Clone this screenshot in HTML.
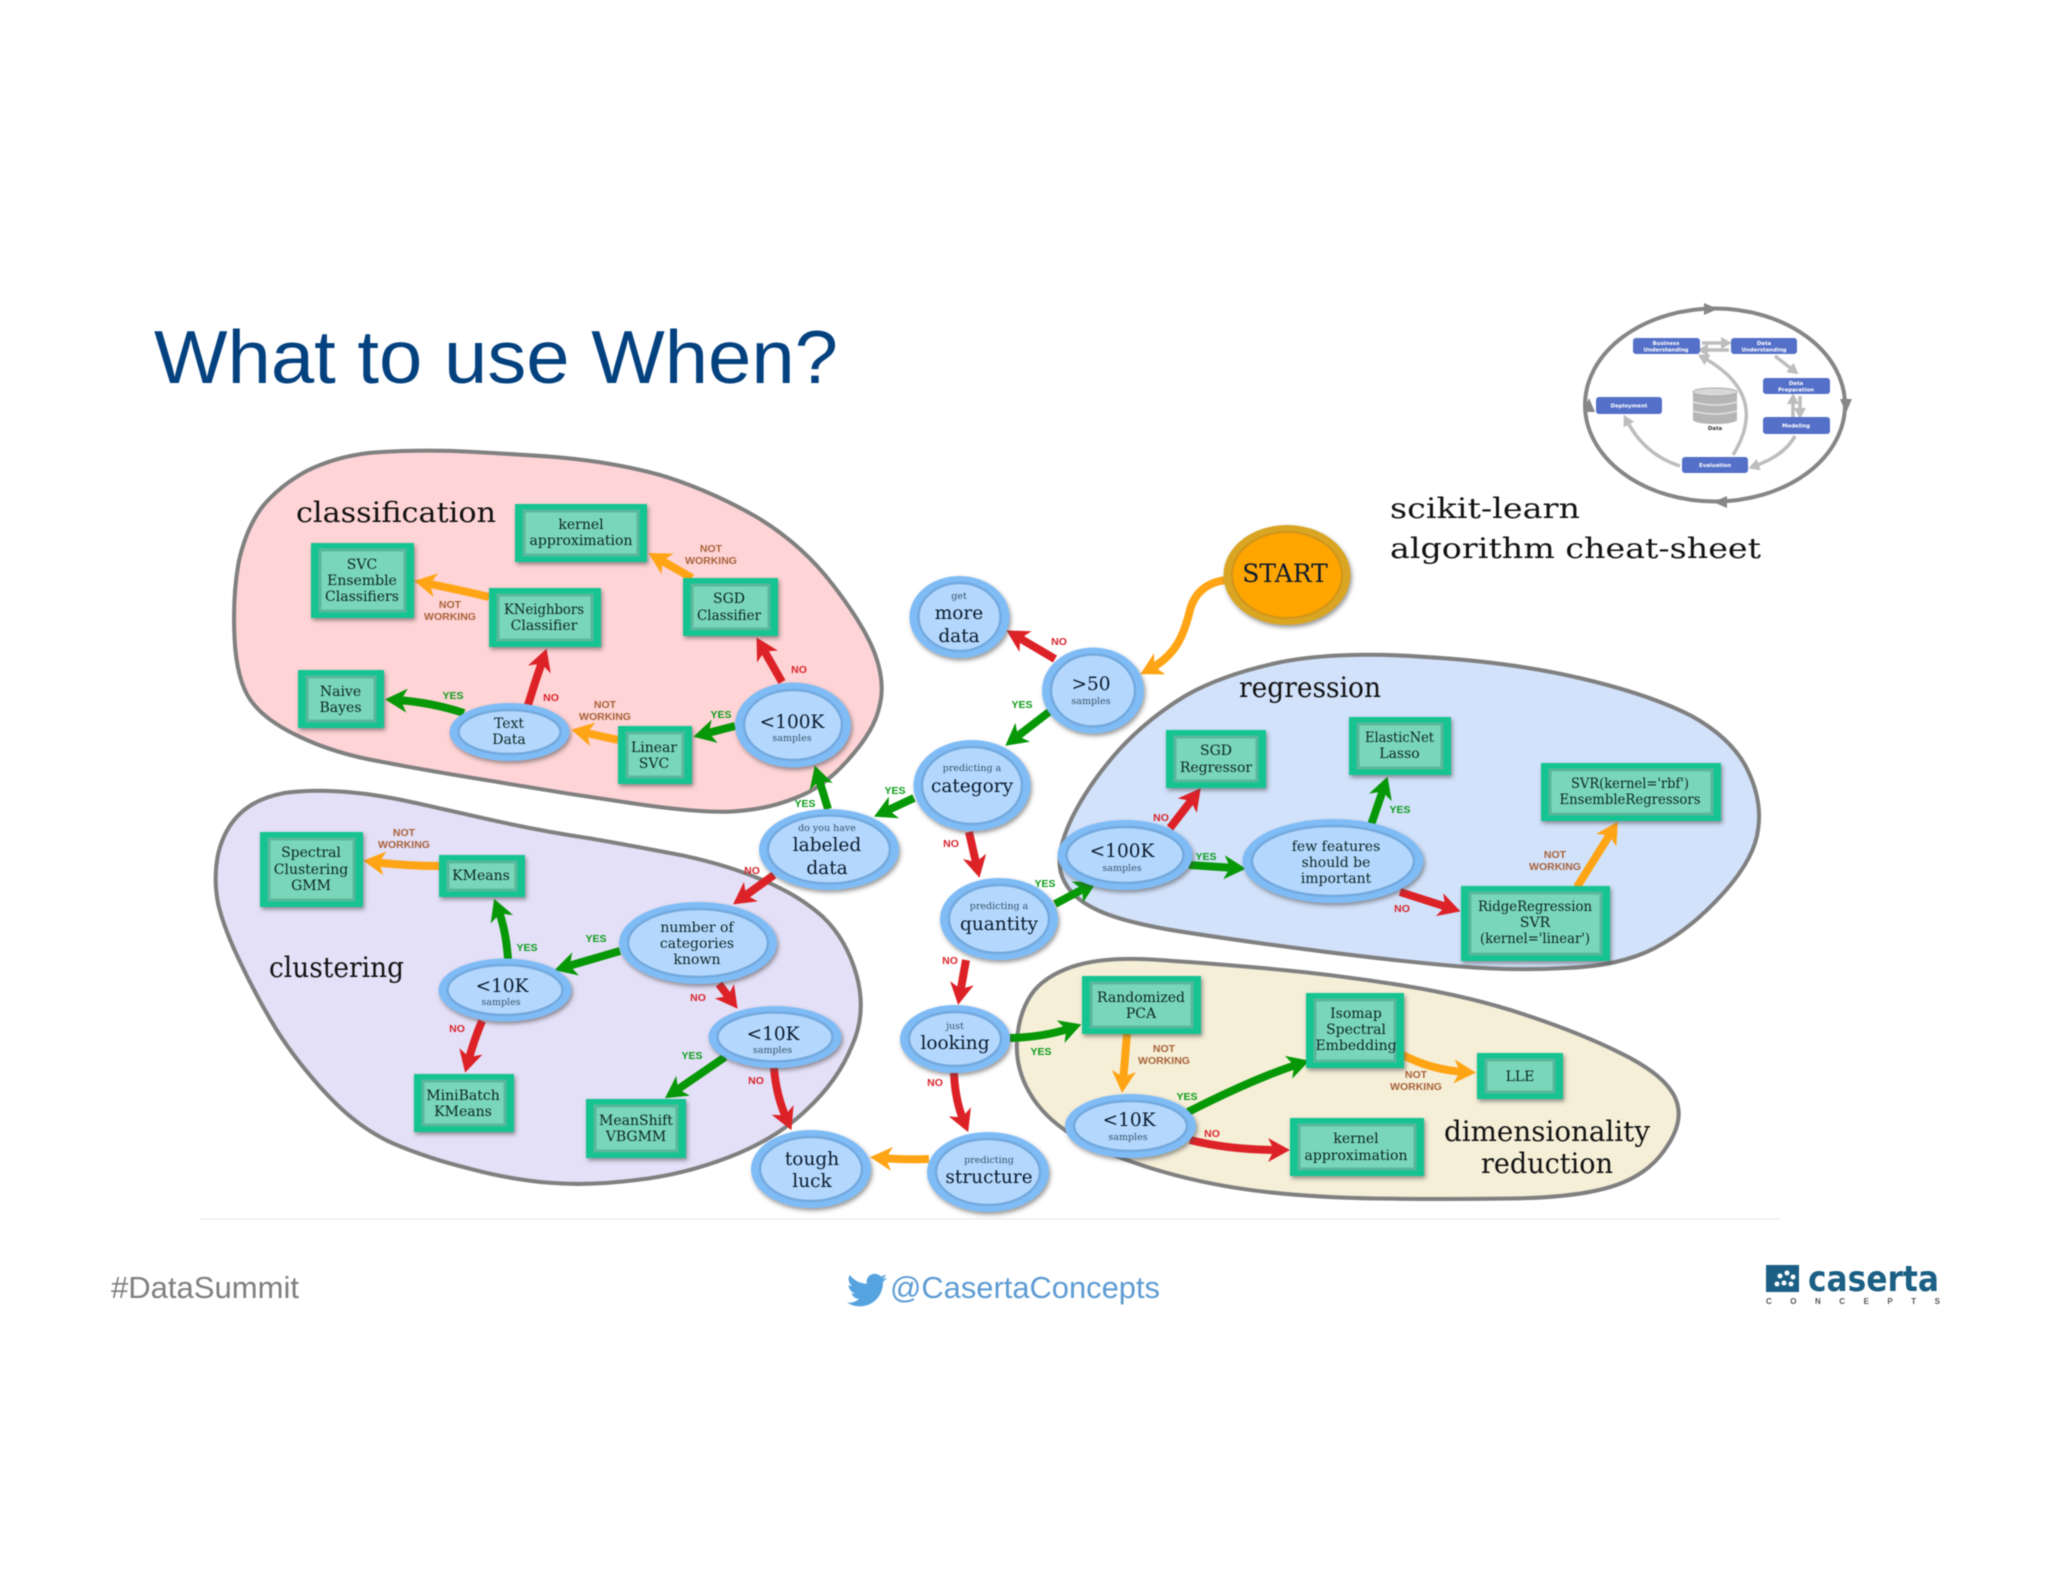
<!DOCTYPE html>
<html><head><meta charset="utf-8"><title>What to use When?</title>
<style>
html,body{margin:0;padding:0;background:#fff}
svg{display:block;filter:blur(.45px)}
.s{font-family:"DejaVu Serif","Liberation Serif",serif;fill:#0a2626;font-size:14px;text-anchor:middle}
.l{font-family:"DejaVu Serif","Liberation Serif",serif;fill:#0a1a2e;font-size:18.5px;text-anchor:middle}
.t{font-family:"DejaVu Serif","Liberation Serif",serif;fill:#33506b;font-size:9.5px;text-anchor:middle}
.h{font-family:"DejaVu Serif","Liberation Serif",serif;fill:#111;font-size:28px}
.y,.n,.w{font-family:"Liberation Sans",sans-serif;font-weight:bold;font-size:10.5px;text-anchor:middle}
.y{fill:#0c9c1a}.n{fill:#d8242c}.w{fill:#a8623a}
.blob{stroke:#808080;stroke-width:4}
.a{fill:none;stroke-width:8}
.r{stroke:#dd2227;marker-end:url(#mr)}
.g{stroke:#079807;marker-end:url(#mg)}
.o{stroke:#ffa515;marker-end:url(#mo)}
.bo{fill:#15c492;filter:url(#sh)}
.bi{fill:#7ad6b9;stroke:#58b89b;stroke-width:3}
.eo{fill:#7fbcf6;filter:url(#sh)}
.ei{fill:#b4d8fd;stroke:#74a9de;stroke-width:2.5}
.cb{fill:#5470c8}
.ct{font-family:"DejaVu Sans",sans-serif;font-weight:bold;font-size:5.4px;fill:#fff;text-anchor:middle}
.ca{fill:none;stroke:#bdbdbd;stroke-width:3.5;marker-end:url(#mc)}
</style></head><body>
<svg xmlns="http://www.w3.org/2000/svg" width="2048" height="1582" viewBox="0 0 2048 1582">
<defs>
<filter id="sh" x="-20%" y="-20%" width="140%" height="140%"><feDropShadow dx="1.5" dy="2.5" stdDeviation="2" flood-color="#444" flood-opacity=".55"/></filter>
<marker id="mr" markerUnits="userSpaceOnUse" markerWidth="30" markerHeight="30" refX="11" refY="15" orient="auto" viewBox="0 0 30 30"><path d="M0,3 L22,15 L0,27 L6,15 Z" fill="#dd2227"/></marker>
<marker id="mg" markerUnits="userSpaceOnUse" markerWidth="30" markerHeight="30" refX="11" refY="15" orient="auto" viewBox="0 0 30 30"><path d="M0,3 L22,15 L0,27 L6,15 Z" fill="#079807"/></marker>
<marker id="mo" markerUnits="userSpaceOnUse" markerWidth="30" markerHeight="30" refX="11" refY="15" orient="auto" viewBox="0 0 30 30"><path d="M0,3 L22,15 L0,27 L6,15 Z" fill="#ffa515"/></marker>
<marker id="mc" markerUnits="userSpaceOnUse" markerWidth="12" markerHeight="12" refX="4" refY="6" orient="auto" viewBox="0 0 12 12"><path d="M0,0 L11,6 L0,12 Z" fill="#bdbdbd"/></marker>
</defs>

<text x="154" y="383" font-family="'Liberation Sans',sans-serif" font-size="75" fill="#03417f" textLength="684" lengthAdjust="spacingAndGlyphs">What to use When?</text>

<!-- blobs -->
<path class="blob" transform="translate(558,632) scale(1.014,1.006) translate(-558,-632)" fill="#ffd4d6" d="M452,452 Q407,451 372,454 Q338,458 310,472 Q283,487 266,508 Q250,530 243,563 Q237,597 239,638 Q241,680 255,700 Q269,720 303,736 Q338,753 384,761 Q430,770 498,781 Q567,793 636,803 Q705,813 735,810 Q765,808 792,797 Q820,787 845,758 Q870,730 875,706 Q881,683 871,655 Q861,627 829,585 Q797,543 751,516 Q705,490 659,476 Q613,463 555,458 Q498,454 452,452 Z"/>
<path class="blob" transform="translate(540,990) scale(1.012,1.01) translate(-540,-990)" fill="#e4e0f7" d="M350,794 Q315,791 287,795 Q260,800 244,815 Q228,830 222,855 Q217,880 222,905 Q228,930 244,963 Q260,997 280,1030 Q301,1063 331,1095 Q361,1127 395,1142 Q430,1157 471,1167 Q512,1178 551,1181 Q590,1184 636,1178 Q682,1173 728,1155 Q774,1137 804,1108 Q834,1080 848,1046 Q863,1013 853,976 Q843,940 820,918 Q797,897 762,882 Q728,867 682,857 Q636,848 590,840 Q544,833 498,823 Q453,813 418,805 Q384,797 350,794 Z"/>
<path class="blob" transform="translate(1412,814) scale(1.0065,1.02) translate(-1412,-814)" fill="#d2e2fb" d="M1425,660 Q1339,654 1282,665 Q1224,677 1187,698 Q1150,720 1121,751 Q1092,783 1075,816 Q1058,850 1063,871 Q1069,893 1095,906 Q1121,920 1187,930 Q1253,940 1325,949 Q1397,958 1454,963 Q1511,968 1565,965 Q1620,963 1654,945 Q1689,927 1721,892 Q1753,857 1756,828 Q1760,800 1745,770 Q1730,740 1690,718 Q1649,697 1580,681 Q1511,665 1425,660 Z"/>
<path class="blob" transform="translate(1352,1079) scale(1.012,1.004) translate(-1351,-1079)" fill="#f5efd8" d="M1153,960 Q1105,957 1075,967 Q1046,977 1034,995 Q1022,1013 1020,1040 Q1018,1067 1032,1092 Q1046,1117 1075,1135 Q1105,1153 1153,1168 Q1201,1183 1254,1190 Q1308,1197 1375,1198 Q1442,1199 1509,1198 Q1576,1197 1611,1185 Q1646,1173 1663,1145 Q1681,1117 1669,1095 Q1657,1073 1616,1053 Q1576,1033 1522,1015 Q1469,997 1402,986 Q1335,975 1268,969 Q1201,963 1153,960 Z"/>

<!-- arrows -->
<path class="a o" d="M692,578 L658,558.5"/>
<path class="a o" d="M489,597 Q460,590 425,583"/>
<path class="a r" d="M782,682 L762,647"/>
<path class="a r" d="M528,705 Q535,682 543,659"/>
<path class="a g" d="M464,713 Q430,702 396,700"/>
<path class="a o" d="M618,740 L582,732"/>
<path class="a g" d="M735,726 L704,734"/>
<path class="a g" d="M828,809 L818,776"/>
<path class="a g" d="M914,798 L884,812"/>
<path class="a o" d="M439,866 Q405,866 374,862"/>
<path class="a g" d="M508,959 Q506,930 498,909"/>
<path class="a g" d="M620,951 L565,967"/>
<path class="a r" d="M774,875 L742,898"/>
<path class="a r" d="M719,984 L731,1000"/>
<path class="a r" d="M482,1021 Q474,1040 468,1062"/>
<path class="a g" d="M725,1057 L674,1092"/>
<path class="a r" d="M774,1068 Q776,1095 787,1120"/>
<path class="a o" d="M929,1159 Q905,1160 881,1158"/>
<path class="a o" d="M1227,580 C1205,582 1194,595 1190,610 C1184,635 1176,655 1150,669"/>
<path class="a r" d="M1055,659 L1016,636"/>
<path class="a g" d="M1049,712 L1014,739"/>
<path class="a r" d="M969,832 L977,867"/>
<path class="a g" d="M1055,904 L1087,887"/>
<path class="a r" d="M1170,828 L1194,797"/>
<path class="a g" d="M1189,865 L1235,868"/>
<path class="a g" d="M1371,825 L1384,787"/>
<path class="a r" d="M1400,892 L1450,908"/>
<path class="a o" d="M1577,887 L1612,831"/>
<path class="a r" d="M966,960 L960,994"/>
<path class="a g" d="M1010,1038 Q1045,1037 1071,1028"/>
<path class="a r" d="M954,1073 Q955,1100 964,1122"/>
<path class="a o" d="M1127,1034 L1123,1082"/>
<path class="a g" d="M1188,1112 Q1255,1078 1299,1064"/>
<path class="a r" d="M1190,1140 Q1230,1150 1279,1150"/>
<path class="a o" d="M1399,1053 Q1430,1070 1465,1072"/>

<!-- boxes -->
<rect class="bo" x="515" y="504" width="132" height="58"/><rect class="bi" x="524" y="511" width="114" height="44"/>
<rect class="bo" x="311" y="543" width="103" height="75"/><rect class="bi" x="320" y="550" width="85" height="61"/>
<rect class="bo" x="489" y="588" width="112" height="59"/><rect class="bi" x="498" y="595" width="94" height="45"/>
<rect class="bo" x="683" y="578" width="95" height="58"/><rect class="bi" x="692" y="585" width="77" height="44"/>
<rect class="bo" x="298" y="670" width="86" height="58"/><rect class="bi" x="307" y="677" width="68" height="44"/>
<rect class="bo" x="618" y="726" width="74" height="58"/><rect class="bi" x="627" y="733" width="56" height="44"/>
<rect class="bo" x="260" y="832" width="103" height="75"/><rect class="bi" x="269" y="839" width="85" height="61"/>
<rect class="bo" x="439" y="855" width="86" height="42"/><rect class="bi" x="448" y="862" width="68" height="28"/>
<rect class="bo" x="414" y="1074" width="100" height="58"/><rect class="bi" x="423" y="1081" width="82" height="44"/>
<rect class="bo" x="586" y="1099" width="100" height="59"/><rect class="bi" x="595" y="1106" width="82" height="45"/>
<rect class="bo" x="1166" y="730" width="100" height="58"/><rect class="bi" x="1175" y="737" width="82" height="44"/>
<rect class="bo" x="1349" y="717" width="102" height="58"/><rect class="bi" x="1358" y="724" width="84" height="44"/>
<rect class="bo" x="1541" y="763" width="180" height="58"/><rect class="bi" x="1550" y="770" width="162" height="44"/>
<rect class="bo" x="1461" y="886" width="149" height="75"/><rect class="bi" x="1470" y="893" width="131" height="61"/>
<rect class="bo" x="1082" y="976" width="119" height="58"/><rect class="bi" x="1091" y="983" width="101" height="44"/>
<rect class="bo" x="1306" y="993" width="98" height="75"/><rect class="bi" x="1315" y="1000" width="80" height="61"/>
<rect class="bo" x="1477" y="1053" width="86" height="46"/><rect class="bi" x="1486" y="1060" width="68" height="32"/>
<rect class="bo" x="1290" y="1118" width="134" height="58"/><rect class="bi" x="1299" y="1125" width="116" height="44"/>

<!-- ellipses -->
<ellipse class="eo" cx="509.5" cy="732" rx="60" ry="29"/><ellipse class="ei" cx="509.5" cy="732" rx="51" ry="22"/>
<ellipse class="eo" cx="793" cy="725" rx="58" ry="42.5"/><ellipse class="ei" cx="793" cy="725" rx="49" ry="35"/>
<ellipse class="eo" cx="829" cy="849.5" rx="70" ry="40.5"/><ellipse class="ei" cx="829" cy="849.5" rx="61" ry="34"/>
<ellipse class="eo" cx="698" cy="943" rx="79" ry="41"/><ellipse class="ei" cx="698" cy="943" rx="70" ry="34"/>
<ellipse class="eo" cx="505" cy="990" rx="66.5" ry="31.5"/><ellipse class="ei" cx="505" cy="990" rx="57.5" ry="25"/>
<ellipse class="eo" cx="775" cy="1037" rx="66.5" ry="31"/><ellipse class="ei" cx="775" cy="1037" rx="57.5" ry="24.5"/>
<ellipse class="eo" cx="811" cy="1169" rx="60" ry="39"/><ellipse class="ei" cx="811" cy="1169" rx="51" ry="32"/>
<ellipse cx="1287" cy="575" rx="63.5" ry="50" fill="#d9a520" filter="url(#sh)"/><ellipse cx="1287" cy="575" rx="55" ry="43" fill="#ffa500" stroke="#d0951a" stroke-width="2"/>
<ellipse class="eo" cx="959.5" cy="617" rx="50" ry="41"/><ellipse class="ei" cx="959.5" cy="617" rx="41" ry="34"/>
<ellipse class="eo" cx="1093" cy="690.5" rx="51" ry="43"/><ellipse class="ei" cx="1093" cy="690.5" rx="42" ry="36"/>
<ellipse class="eo" cx="972" cy="785.5" rx="58.5" ry="45.5"/><ellipse class="ei" cx="972" cy="785.5" rx="50" ry="38.5"/>
<ellipse class="eo" cx="999" cy="919" rx="59" ry="41"/><ellipse class="ei" cx="999" cy="919" rx="50" ry="34"/>
<ellipse class="eo" cx="1125" cy="855" rx="67.5" ry="35"/><ellipse class="ei" cx="1125" cy="855" rx="58.5" ry="28"/>
<ellipse class="eo" cx="1333" cy="861" rx="90.5" ry="42"/><ellipse class="ei" cx="1333" cy="861" rx="81" ry="35"/>
<ellipse class="eo" cx="955" cy="1039" rx="55" ry="34"/><ellipse class="ei" cx="955" cy="1039" rx="46" ry="27"/>
<ellipse class="eo" cx="988" cy="1172" rx="61" ry="40"/><ellipse class="ei" cx="988" cy="1172" rx="52" ry="33"/>
<ellipse class="eo" cx="1130.5" cy="1126" rx="65.5" ry="32"/><ellipse class="ei" cx="1130.5" cy="1126" rx="56.5" ry="25"/>

<!-- node text -->
<text class="s" x="581" y="529">kernel</text><text class="s" x="581" y="545">approximation</text>
<text class="s" x="362" y="569">SVC</text><text class="s" x="362" y="585">Ensemble</text><text class="s" x="362" y="601">Classifiers</text>
<text class="s" x="544" y="614" textLength="80" lengthAdjust="spacingAndGlyphs">KNeighbors</text><text class="s" x="544" y="630">Classifier</text>
<text class="s" x="729" y="603">SGD</text><text class="s" x="729" y="620" textLength="64" lengthAdjust="spacingAndGlyphs">Classifier</text>
<text class="s" x="340.5" y="696">Naive</text><text class="s" x="340.5" y="712">Bayes</text>
<text class="s" x="654" y="752">Linear</text><text class="s" x="654" y="768">SVC</text>
<text class="s" x="509" y="728">Text</text><text class="s" x="509" y="744">Data</text>
<text class="l" x="792" y="728">&lt;100K</text><text class="t" x="792" y="741">samples</text>
<text class="t" x="827" y="831">do you have</text><text class="l" x="827" y="851">labeled</text><text class="l" x="827" y="874">data</text>
<text class="s" x="311" y="857">Spectral</text><text class="s" x="311" y="874">Clustering</text><text class="s" x="311" y="890">GMM</text>
<text class="s" x="481" y="880">KMeans</text>
<text class="s" x="697" y="932">number of</text><text class="s" x="697" y="948">categories</text><text class="s" x="697" y="964">known</text>
<text class="l" x="502" y="992">&lt;10K</text><text class="t" x="501" y="1005">samples</text>
<text class="l" x="773" y="1040">&lt;10K</text><text class="t" x="772.5" y="1053">samples</text>
<text class="s" x="463" y="1100">MiniBatch</text><text class="s" x="463" y="1116">KMeans</text>
<text class="s" x="636" y="1125">MeanShift</text><text class="s" x="636" y="1141">VBGMM</text>
<text class="l" x="812" y="1165">tough</text><text class="l" x="812" y="1187">luck</text>
<text class="l" x="1285" y="582" style="font-size:25px">START</text>
<text class="t" x="959" y="599">get</text><text class="l" x="959" y="619">more</text><text class="l" x="959" y="642">data</text>
<text class="l" x="1091" y="690">&gt;50</text><text class="t" x="1091" y="704">samples</text>
<text class="t" x="972" y="771">predicting a</text><text class="l" x="972" y="792">category</text>
<text class="t" x="999" y="909">predicting a</text><text class="l" x="999" y="930">quantity</text>
<text class="l" x="1122" y="857">&lt;100K</text><text class="t" x="1122" y="871">samples</text>
<text class="s" x="1216" y="755">SGD</text><text class="s" x="1216" y="772">Regressor</text>
<text class="s" x="1399.5" y="742" textLength="69" lengthAdjust="spacingAndGlyphs">ElasticNet</text><text class="s" x="1399.5" y="758">Lasso</text>
<text class="s" x="1336" y="851">few features</text><text class="s" x="1336" y="867">should be</text><text class="s" x="1336" y="883">important</text>
<text class="s" x="1630" y="788" textLength="118" lengthAdjust="spacingAndGlyphs">SVR(kernel='rbf')</text><text class="s" x="1630" y="804" textLength="141" lengthAdjust="spacingAndGlyphs">EnsembleRegressors</text>
<text class="s" x="1535" y="911" textLength="114" lengthAdjust="spacingAndGlyphs">RidgeRegression</text><text class="s" x="1535" y="927">SVR</text><text class="s" x="1535" y="943" textLength="110" lengthAdjust="spacingAndGlyphs">(kernel='linear')</text>
<text class="t" x="955" y="1029">just</text><text class="l" x="955" y="1049">looking</text>
<text class="t" x="989" y="1163">predicting</text><text class="l" x="989" y="1183">structure</text>
<text class="s" x="1141" y="1002">Randomized</text><text class="s" x="1141" y="1018">PCA</text>
<text class="s" x="1356" y="1018">Isomap</text><text class="s" x="1356" y="1034">Spectral</text><text class="s" x="1356" y="1050">Embedding</text>
<text class="s" x="1520" y="1081">LLE</text>
<text class="s" x="1356" y="1143">kernel</text><text class="s" x="1356" y="1160">approximation</text>
<text class="l" x="1129" y="1126">&lt;10K</text><text class="t" x="1128" y="1140">samples</text>

<!-- headings -->
<text class="h" x="296" y="522" textLength="200" lengthAdjust="spacingAndGlyphs">classification</text>
<text class="h" x="269" y="977" textLength="135" lengthAdjust="spacingAndGlyphs">clustering</text>
<text class="h" x="1239" y="697" textLength="142" lengthAdjust="spacingAndGlyphs">regression</text>
<text class="h" x="1444" y="1141" textLength="206" lengthAdjust="spacingAndGlyphs">dimensionality</text>
<text class="h" x="1481" y="1173" textLength="132" lengthAdjust="spacingAndGlyphs">reduction</text>
<text class="h" x="1390" y="518" textLength="190" lengthAdjust="spacingAndGlyphs">scikit-learn</text>
<text class="h" x="1390" y="558" textLength="371" lengthAdjust="spacingAndGlyphs">algorithm cheat-sheet</text>

<!-- labels -->
<text class="w" x="711" y="552">NOT</text><text class="w" x="711" y="564">WORKING</text>
<text class="w" x="450" y="608">NOT</text><text class="w" x="450" y="620">WORKING</text>
<text class="n" x="799" y="673">NO</text><text class="n" x="551" y="701">NO</text>
<text class="y" x="453" y="699">YES</text>
<text class="w" x="605" y="708">NOT</text><text class="w" x="605" y="720">WORKING</text>
<text class="y" x="721" y="718">YES</text><text class="y" x="805" y="807">YES</text><text class="y" x="895" y="794">YES</text>
<text class="w" x="404" y="836">NOT</text><text class="w" x="404" y="848">WORKING</text>
<text class="n" x="752" y="874">NO</text><text class="y" x="596" y="942">YES</text><text class="y" x="527" y="951">YES</text>
<text class="n" x="698" y="1001">NO</text><text class="n" x="457" y="1032">NO</text><text class="y" x="692" y="1059">YES</text><text class="n" x="756" y="1084">NO</text>
<text class="n" x="1059" y="645">NO</text><text class="y" x="1022" y="708">YES</text><text class="n" x="951" y="847">NO</text>
<text class="y" x="1045" y="887">YES</text><text class="n" x="1161" y="821">NO</text><text class="y" x="1206" y="860">YES</text><text class="y" x="1400" y="813">YES</text>
<text class="w" x="1555" y="858">NOT</text><text class="w" x="1555" y="870">WORKING</text>
<text class="n" x="1402" y="912">NO</text><text class="n" x="950" y="964">NO</text><text class="n" x="935" y="1086">NO</text>
<text class="y" x="1041" y="1055">YES</text>
<text class="w" x="1164" y="1052">NOT</text><text class="w" x="1164" y="1064">WORKING</text>
<text class="y" x="1187" y="1100">YES</text><text class="n" x="1212" y="1137">NO</text>
<text class="w" x="1416" y="1078">NOT</text><text class="w" x="1416" y="1090">WORKING</text>

<!-- CRISP cycle -->
<ellipse cx="1715" cy="405" rx="130" ry="96.5" fill="none" stroke="#868686" stroke-width="4"/>
<path d="M1704,303 L1718,309 L1704,315 Z" fill="#868686"/>
<path d="M1840,399 L1852,399 L1846,413 Z" fill="#868686"/>
<path d="M1727,496 L1713,502 L1727,508 Z" fill="#868686"/>
<path d="M1583,412 L1595,412 L1589,398 Z" fill="#868686"/>
<path class="ca" d="M1702,343 L1725,343"/><path class="ca" d="M1729,350 L1704,350"/>
<path class="ca" d="M1775,356 L1793,370"/>
<path class="ca" d="M1793,417 L1793,400"/><path class="ca" d="M1800,396 L1800,412"/>
<path class="ca" d="M1795,436 Q1785,455 1755,466"/>
<path class="ca" d="M1733,455 Q1770,395 1704,358"/>
<path class="ca" d="M1680,466 Q1645,455 1627,421"/>
<g class="cb"><rect x="1633" y="338" width="67" height="16" rx="3"/><rect x="1731" y="338" width="66" height="16" rx="3"/><rect x="1763" y="378" width="67" height="16" rx="3"/><rect x="1763" y="417" width="67" height="17" rx="3"/><rect x="1682" y="457" width="66" height="16" rx="3"/><rect x="1596" y="397" width="66" height="17" rx="3"/></g>
<text class="ct" x="1666" y="345">Business</text><text class="ct" x="1666" y="351.5">Understanding</text>
<text class="ct" x="1764" y="345">Data</text><text class="ct" x="1764" y="351.5">Understanding</text>
<text class="ct" x="1796" y="385">Data</text><text class="ct" x="1796" y="391.5">Preparation</text>
<text class="ct" x="1796" y="427.5">Modeling</text>
<text class="ct" x="1715" y="467">Evaluation</text>
<text class="ct" x="1629" y="407.5">Deployment</text>
<rect x="1693" y="392" width="44" height="28" fill="#b5b5b5"/><ellipse cx="1715" cy="392" rx="22" ry="4" fill="#d8d8d8" stroke="#aaa"/><ellipse cx="1715" cy="420" rx="22" ry="4" fill="#b5b5b5"/>
<path d="M1693,402 Q1715,408 1737,402 M1693,411 Q1715,417 1737,411" stroke="#e0e0e0" stroke-width="1.5" fill="none"/>
<text x="1715" y="430" font-family="'DejaVu Sans',sans-serif" font-weight="bold" font-size="5.4" fill="#333" text-anchor="middle">Data</text>

<!-- footer -->
<line x1="200" y1="1219" x2="1779" y2="1219" stroke="#eeeeee" stroke-width="1.5"/>
<text x="111" y="1298" font-family="'Liberation Sans',sans-serif" font-size="31" fill="#7f7f7f" textLength="188" lengthAdjust="spacingAndGlyphs">#DataSummit</text>
<path transform="translate(847,1270) scale(1.67)" fill="#55a4e0" d="M23.95 4.57a10 10 0 01-2.82.77 4.96 4.96 0 002.16-2.72c-.95.55-2 .96-3.12 1.19a4.92 4.92 0 00-8.38 4.48A13.98 13.98 0 011.64 3a4.93 4.93 0 001.52 6.57 4.9 4.9 0 01-2.23-.62v.06a4.92 4.92 0 003.95 4.83 5 5 0 01-2.21.08 4.94 4.94 0 004.6 3.42A9.87 9.87 0 010 19.54a13.94 13.94 0 007.55 2.21c9.05 0 14-7.5 14-13.98 0-.21 0-.42-.02-.63a9.94 9.94 0 002.46-2.55z"/>
<text x="890" y="1298" font-family="'Liberation Sans',sans-serif" font-size="31" fill="#5d9bd3" textLength="270" lengthAdjust="spacingAndGlyphs">@CasertaConcepts</text>
<rect x="1766" y="1265" width="33" height="27" fill="#1c5f85"/>
<g fill="#fff"><circle cx="1780" cy="1276" r="2.5"/><circle cx="1787" cy="1273" r="2.5"/><circle cx="1793" cy="1277" r="2.5"/><circle cx="1777" cy="1284" r="2.5"/><circle cx="1784" cy="1283" r="2.5"/><circle cx="1791" cy="1284" r="2.5"/></g>
<text x="1808" y="1291" font-family="'DejaVu Sans',sans-serif" font-weight="bold" font-size="36" fill="#1c5f85" textLength="131" lengthAdjust="spacingAndGlyphs">caserta</text>
<text x="1766" y="1304" font-family="'Liberation Sans',sans-serif" font-size="8" font-weight="bold" fill="#555" textLength="174" lengthAdjust="spacing">CONCEPTS</text>
</svg>
</body></html>
